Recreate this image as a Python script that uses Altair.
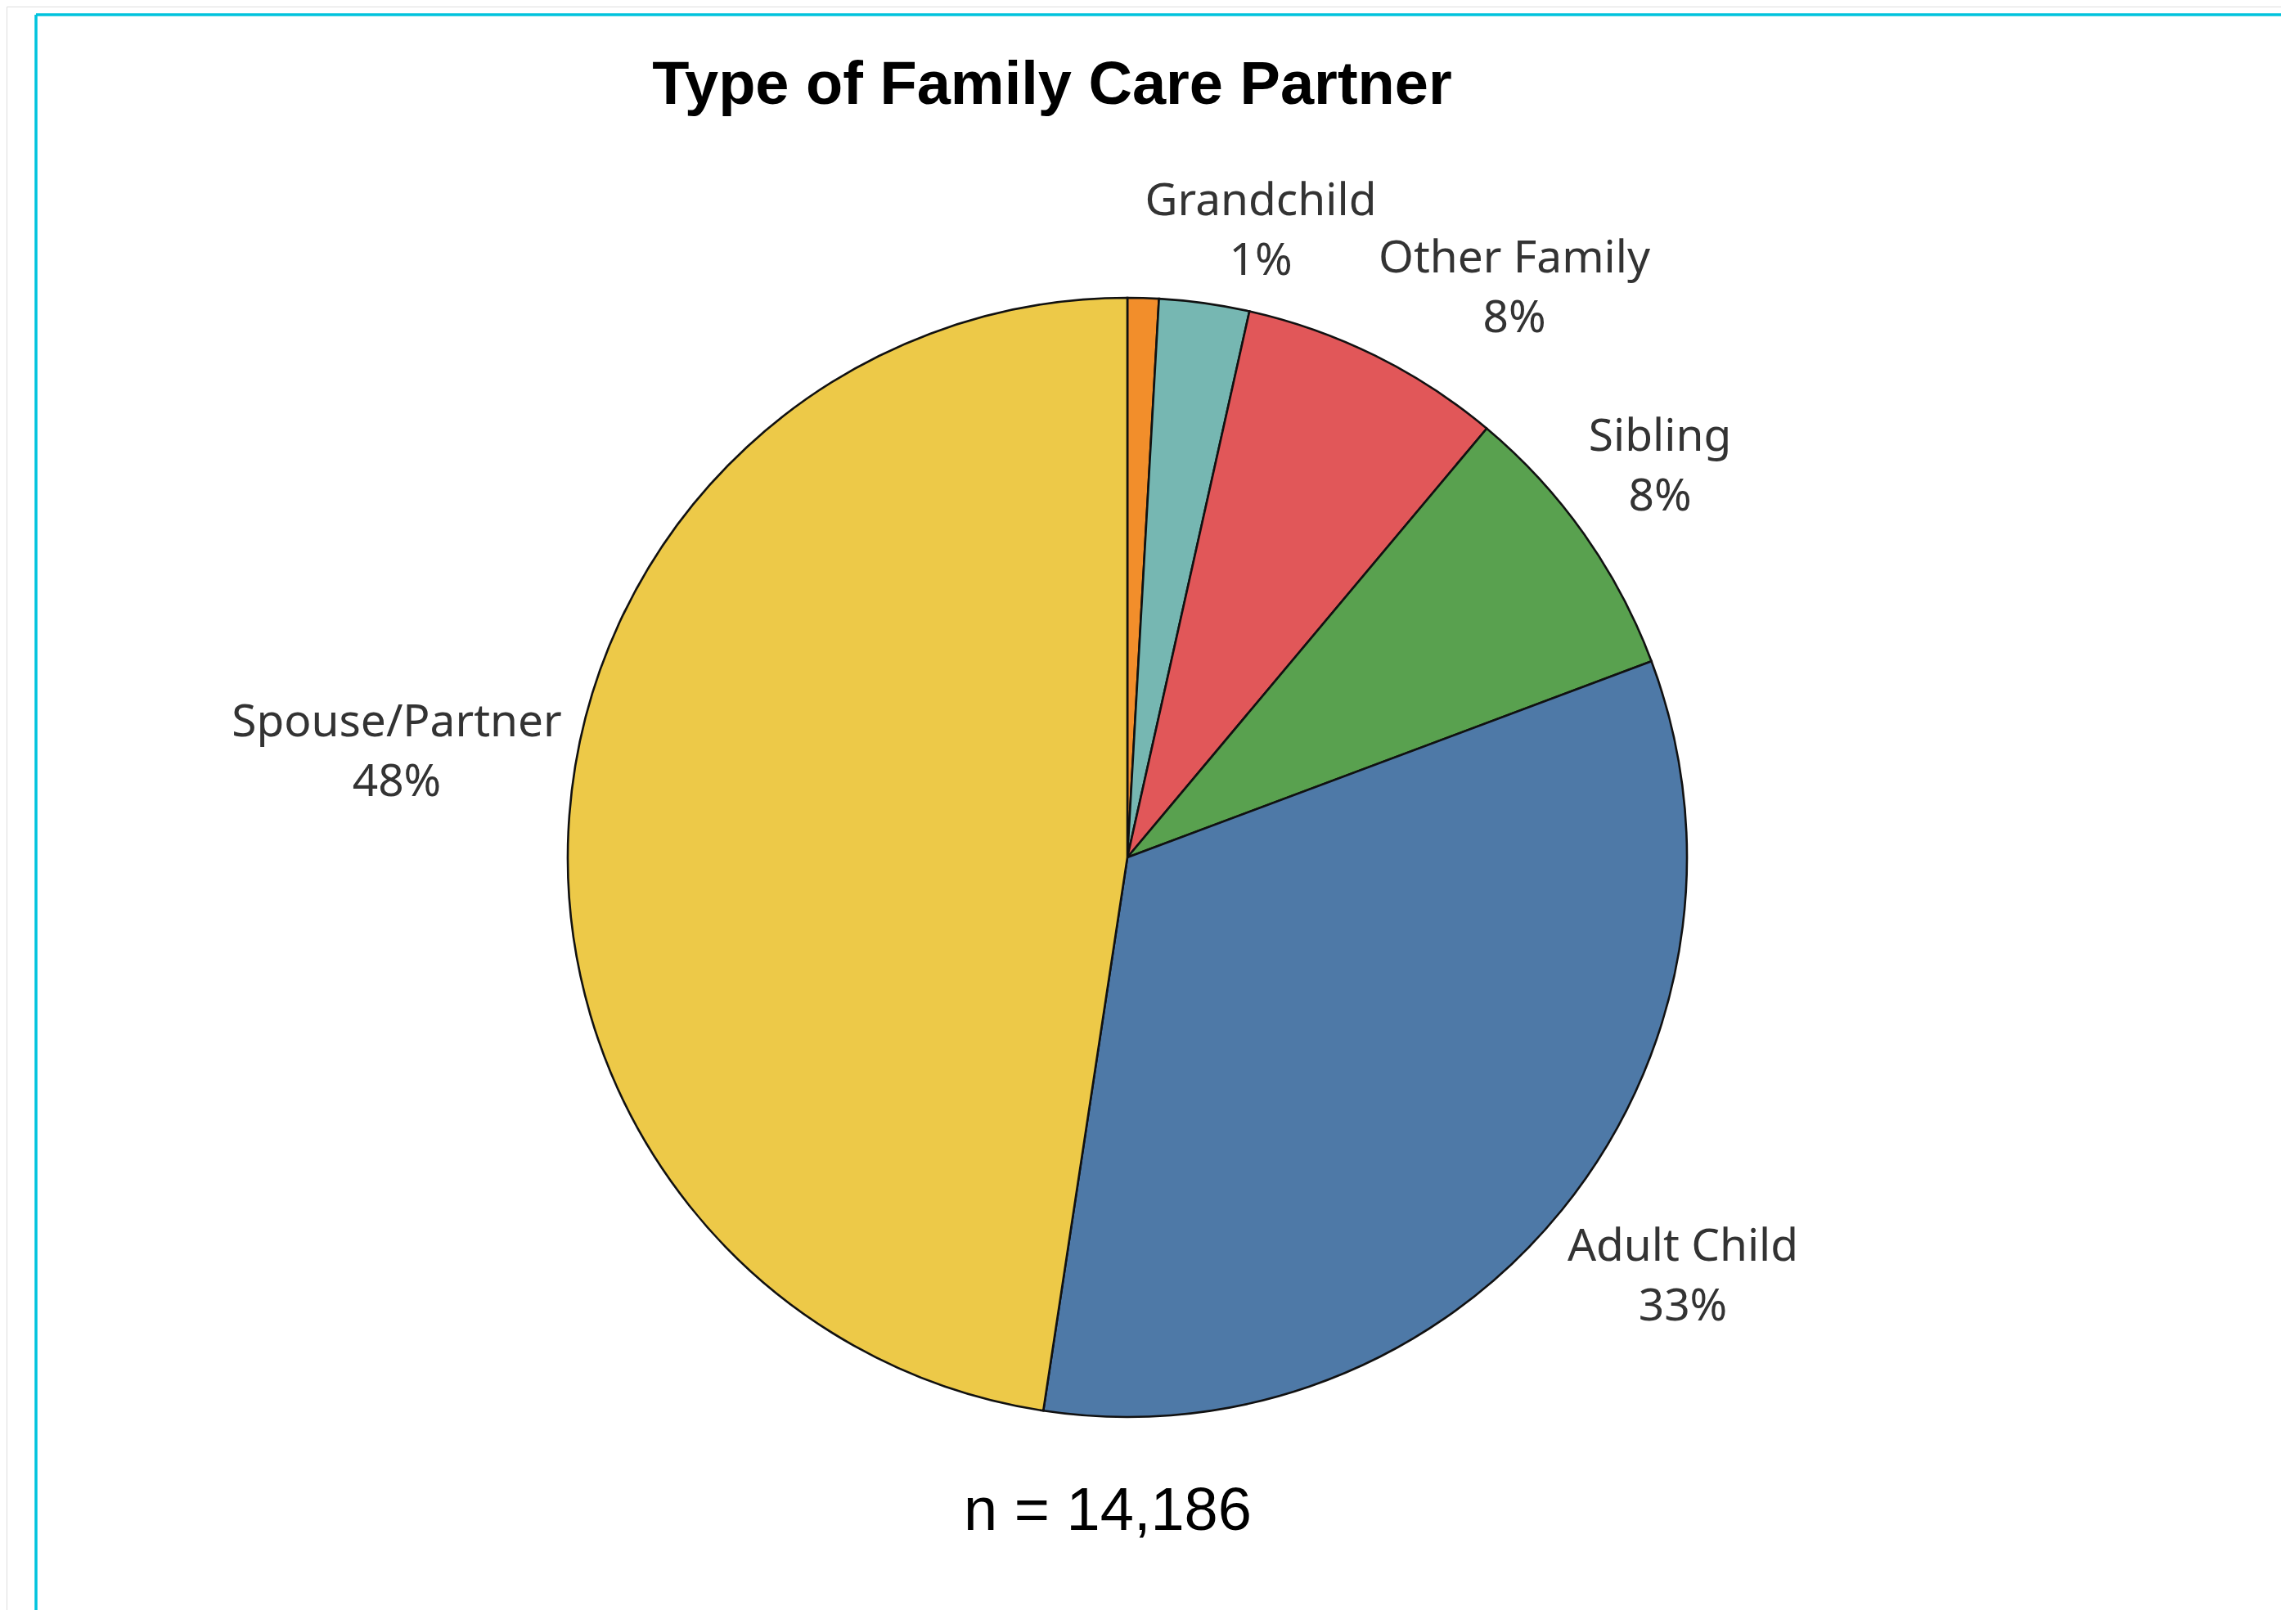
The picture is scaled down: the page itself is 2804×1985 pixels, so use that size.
import altair as alt
import pandas as pd

# ---- data (clockwise from 12 o'clock) ----
categories = ["Grandchild", "Other", "Other Family", "Sibling", "Adult Child", "Spouse/Partner"]
shares = [0.9, 2.6, 7.6, 8.2, 33.1, 47.6]
colors = ["#F28E2B", "#76B7B2", "#E15759", "#59A14F", "#4E79A7", "#EDC948"]

label_names = ["Grandchild", "Other Family", "Sibling", "Adult Child", "Spouse/Partner"]
label_pcts = ["1%", "8%", "8%", "33%", "48%"]

title_text = "Type of Family Care Partner"
n_text = "n = 14,186"

# ---- layout ----
W, H = 2780, 1960
CX, CY, R = 1370, 1040, 684
label_anchor = {
    "Grandchild": (1533, 238),
    "Other Family": (1843, 308),
    "Sibling": (2021, 526),
    "Adult Child": (2049, 1516),
    "Spouse/Partner": (477, 875),
}
LABEL_FONT = "Noto Sans"

pie_df = pd.DataFrame({"category": categories, "share": shares, "idx": list(range(len(categories)))})

pie = alt.Chart(pie_df).mark_arc(radius=R, stroke="#111111", strokeWidth=2.6).encode(
    theta=alt.Theta("share:Q", stack=True, scale=alt.Scale(domain=[0, sum(shares)])),
    order=alt.Order("idx:Q"),
    color=alt.Color("category:N", scale=alt.Scale(domain=categories, range=colors), legend=None),
    x=alt.value(CX),
    y=alt.value(CY),
)

lab_df = pd.DataFrame({
    "name": label_names,
    "pct": label_pcts,
})
lab_df["txt"] = lab_df["name"] + "\n" + lab_df["pct"]
lab_df["px"] = [label_anchor[n][0] for n in label_names]
lab_df["py"] = [label_anchor[n][1] for n in label_names]

labels = alt.Chart(lab_df).mark_text(
    font=LABEL_FONT, fontSize=55, color="#333333", lineBreak="\n", lineHeight=73,
    align="center", baseline="middle",
).encode(
    x=alt.X("px:Q", scale=None),
    y=alt.Y("py:Q", scale=None),
    text="txt:N",
)

title = alt.Chart(pd.DataFrame({"t": [title_text]})).mark_text(
    font="Liberation Sans", fontWeight="bold", fontSize=74, color="#000000",
    align="center", baseline="alphabetic",
).encode(x=alt.value(1278), y=alt.value(119), text="t:N")

ntext = alt.Chart(pd.DataFrame({"t": [n_text]})).mark_text(
    font="Liberation Sans", fontSize=74, color="#000000",
    align="center", baseline="alphabetic",
).encode(x=alt.value(1346), y=alt.value(1862), text="t:N")

frame_df = pd.DataFrame({"k": [0]})
top_line = alt.Chart(frame_df).mark_rule(color="#00C3DD", strokeWidth=3.5).encode(
    x=alt.value(36), x2=alt.value(W), y=alt.value(10)
)
left_line = alt.Chart(frame_df).mark_rule(color="#00C3DD", strokeWidth=3.5).encode(
    x=alt.value(36), y=alt.value(10), y2=alt.value(H)
)

chart = alt.layer(top_line, left_line, pie, labels, title, ntext).properties(
    width=W, height=H, padding=0,
    autosize=alt.AutoSizeParams(type="none"),
).configure_view(stroke=None).configure(background="white")

chart.save("out.html", embed_options={"renderer": "svg", "actions": False})
